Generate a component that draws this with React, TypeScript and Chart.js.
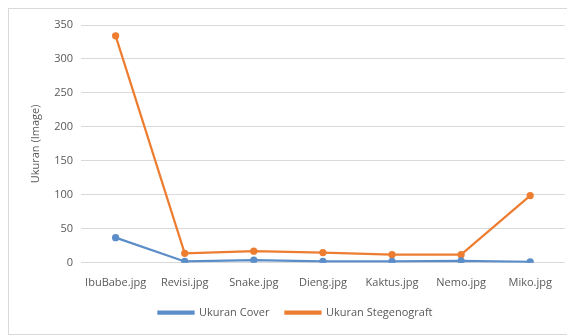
import React, { useEffect, useRef } from "react";
import { Chart, registerables } from "chart.js";

Chart.register(...registerables);

const categories = ["IbuBabe.jpg", "Revisi.jpg", "Snake.jpg", "Dieng.jpg", "Kaktus.jpg", "Nemo.jpg", "Miko.jpg"];
const ukuranCover = [37, 2, 4, 2, 2, 3, 1.5];
const ukuranStegano = [334, 14, 17, 15, 12, 12, 99];
const yTicks = [0, 50, 100, 150, 200, 250, 300, 350];

export default function App() {
  const ref = useRef<HTMLCanvasElement>(null);
  useEffect(() => {
    if (!ref.current) return;
    const font = { family: "'Open Sans', sans-serif", size: 11 };
    const chart = new Chart(ref.current, {
      type: "line",
      data: {
        labels: categories,
        datasets: [
          {
            label: "Ukuran Cover",
            data: ukuranCover,
            borderColor: "#5b8ec9",
            backgroundColor: "#5b8ec9",
            borderWidth: 2.25,
            pointRadius: 2.5,
            pointStyle: "circle",
          },
          {
            label: "Ukuran Stegenograft",
            data: ukuranStegano,
            borderColor: "#ed7d31",
            backgroundColor: "#ed7d31",
            borderWidth: 2.25,
            pointRadius: 2.5,
            pointStyle: "circle",
          },
        ],
      },
      options: {
        animation: false,
        responsive: true,
        maintainAspectRatio: false,
        layout: { padding: { left: 16, right: 5, top: 16, bottom: 6 } },
        plugins: {
          legend: {
            position: "bottom",
            labels: {
              color: "#595959",
              font,
              boxWidth: 35,
              boxHeight: 2,
              padding: 16,
            },
          },
          tooltip: { enabled: false },
        },
        scales: {
          x: {
            offset: true,
            grid: { display: false },
            border: { display: false },
            ticks: { color: "#595959", font, maxRotation: 0, padding: 5 },
            afterFit: (axis: any) => {
              axis.height -= 3;
            },
          },
          y: {
            min: 0,
            max: 350,
            afterBuildTicks: (axis: any) => {
              axis.ticks = yTicks.map((v) => ({ value: v }));
            },
            grid: { color: "#d9d9d9", drawTicks: false },
            border: { display: false },
            ticks: { color: "#595959", font, padding: 8 },
            title: {
              display: true,
              text: "Ukuran (Image)",
              color: "#595959",
              font,
              padding: 4,
            },
          },
        },
      },
    });
    return () => chart.destroy();
  }, []);
  return (
    <div style={{ width: 562, height: 325, border: "1px solid #d9d9d9", background: "#fff" }}>
      <canvas ref={ref} />
    </div>
  );
}
